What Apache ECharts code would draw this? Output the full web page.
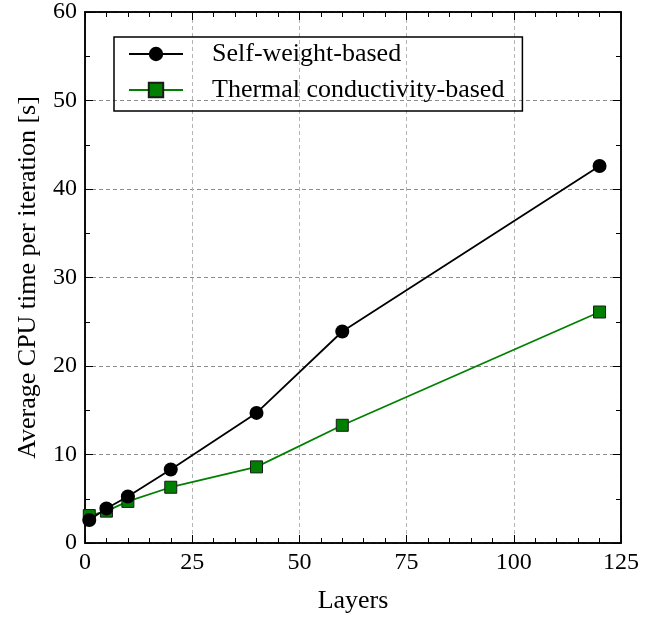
<!DOCTYPE html>
<html><head><meta charset="utf-8">
<script src="https://cdn.jsdelivr.net/npm/echarts@6/dist/echarts.min.js"></script>
<style>html,body{margin:0;padding:0;background:#fff}#c{width:667px;height:621px}</style>
</head><body><div id="c"></div>
<script>
const layers = [1, 5, 10, 20, 40, 60, 120];
const selfWeight = [2.6, 3.9, 5.25, 8.3, 14.7, 23.9, 42.6];
const thermal = [3.1, 3.6, 4.7, 6.3, 8.6, 13.3, 26.1];
const seriesNames = ['Self-weight-based', 'Thermal conductivity-based'];
const xTitle = 'Layers';
const yTitle = 'Average CPU time per iteration [s]';

const font = 'Liberation Serif';
const chart = echarts.init(document.getElementById('c'));
function ax(kind, pos, interval, tickLen, extra) {
  const base = {
    type: 'value', position: pos, interval: interval,
    min: 0, max: kind === 'x' ? 125 : 60,
    axisLine: {show: true, onZero: false, lineStyle: {color: '#000', width: 1.5}},
    axisTick: {show: true, inside: true, length: tickLen, lineStyle: {color: '#000', width: 1}},
    axisLabel: {show: false},
    splitLine: {show: false}
  };
  return Object.assign(base, extra || {});
}
chart.setOption({
  animation: false,
  grid: {left: 85, right: 46, top: 6, bottom: 78, containLabel: false},
  legend: {
    orient: 'vertical', left: 114, top: 37,
    borderColor: '#000', borderWidth: 1.5, borderRadius: 0,
    padding: [4, 18, 8, 14], itemGap: 10, itemWidth: 54, itemHeight: 18,
    textStyle: {fontFamily: font, fontSize: 26, lineHeight: 26, color: '#000', padding: [0, 0, 0, 24]},
    data: seriesNames
  },
  xAxis: [
    ax('x', 'bottom', 25, 8, {
      name: xTitle, nameLocation: 'middle', nameGap: 45,
      nameTextStyle: {fontFamily: font, fontSize: 26, color: '#000'},
      axisLabel: {show: true, fontFamily: font, fontSize: 24, color: '#000', margin: 8},
      splitLine: {show: true, lineStyle: {color: '#b4b4b4', type: [4, 3], width: 1}}}),
    ax('x', 'bottom', 5, 5),
    ax('x', 'top', 25, 8),
    ax('x', 'top', 5, 5)
  ],
  yAxis: [
    ax('y', 'left', 10, 8, {
      name: yTitle, nameLocation: 'middle', nameGap: 44,
      nameTextStyle: {fontFamily: font, fontSize: 26, color: '#000'},
      axisLabel: {show: true, fontFamily: font, fontSize: 24, color: '#000', margin: 8},
      splitLine: {show: true, lineStyle: {color: '#8c8c8c', type: [4, 3], width: 1}}}),
    ax('y', 'left', 5, 5),
    ax('y', 'right', 10, 8),
    ax('y', 'right', 5, 5)
  ],
  series: [
    {name: seriesNames[0], type: 'line', data: layers.map((x, i) => [x, selfWeight[i]]),
      symbol: 'circle', symbolSize: 14, z: 3,
      lineStyle: {color: '#000', width: 1.8},
      itemStyle: {color: '#000', borderColor: '#000', borderWidth: 0}},
    {name: seriesNames[1], type: 'line', data: layers.map((x, i) => [x, thermal[i]]),
      symbol: 'rect', symbolSize: 12, z: 2,
      lineStyle: {color: '#008000', width: 1.8},
      itemStyle: {color: '#008000', borderColor: '#1a1a1a', borderWidth: 1}}
  ]
});
</script></body></html>
